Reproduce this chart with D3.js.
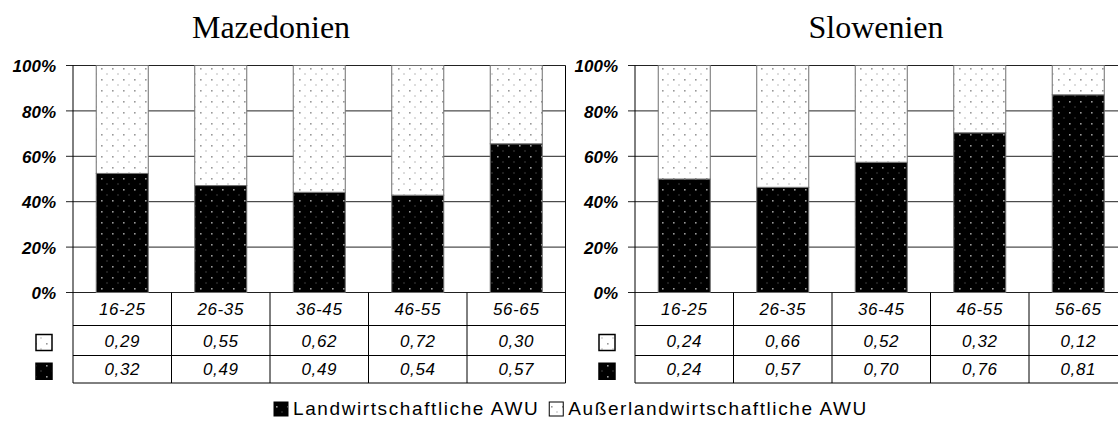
<!DOCTYPE html>
<html>
<head>
<meta charset="utf-8">
<script src="https://cdn.jsdelivr.net/npm/d3@7"></script>
<style>
	body { margin: 0; background: #fff; }
	svg { display: block; }
	.tick-label { font-family: "Liberation Sans", Arial, sans-serif; font-size: 17px; font-weight: bold; font-style: italic; }
	.cell { font-family: "Liberation Sans", Arial, sans-serif; font-size: 17px; font-style: italic; letter-spacing: 0.6px; }
	.title { font-family: "Liberation Serif", "Times New Roman", serif; font-size: 32px; }
	.legend { font-family: "Liberation Sans", Arial, sans-serif; font-size: 19px; letter-spacing: 1.6px; }
</style>
</head>
<body>
<div id="chart"></div>
<script>
// data
const ageGroups = ["16-25", "26-35", "36-45", "46-55", "56-65"];
const mkAgrar = [0.32, 0.49, 0.49, 0.54, 0.57];   // Landwirtschaftliche AWU
const mkAusser = [0.29, 0.55, 0.62, 0.72, 0.30];  // Außerlandwirtschaftliche AWU
const siAgrar = [0.24, 0.57, 0.70, 0.76, 0.81];
const siAusser = [0.24, 0.66, 0.52, 0.32, 0.12];
const yTicks = [0, 0.2, 0.4, 0.6, 0.8, 1];
const seriesNames = ["Landwirtschaftliche AWU", "Außerlandwirtschaftliche AWU"];

const W = 1118, H = 428;
const colW = 98.5;
const plotTop = 65.5, plotBottom = 292.5;
const rows = [292.5, 325.5, 355.5, 383];

const de = d3.formatLocale({ decimal: ",", thousands: ".", grouping: [3], currency: ["", " €"] });
const fmtVal = de.format(".2f");
const fmtPct = d3.format(".0%");

const svg = d3.select("#chart").append("svg")
	.attr("width", W)
	.attr("height", H);

svg.append("rect").attr("width", W).attr("height", H).attr("fill", "#fff");

// dot patterns
const defs = svg.append("defs");
function dotPattern(id, bg) {
	const p = defs.append("pattern")
		.attr("id", id)
		.attr("patternUnits", "userSpaceOnUse")
		.attr("width", 11)
		.attr("height", 11);
	p.append("rect").attr("width", 11).attr("height", 11).attr("fill", bg);
	p.append("rect").attr("x", 2).attr("y", 2).attr("width", 1.6).attr("height", 1.6).attr("fill", "#999");
	p.append("rect").attr("x", 7.5).attr("y", 7.5).attr("width", 1).attr("height", 1).attr("fill", "#777");
}
dotPattern("dotsDark", "#000");
dotPattern("dotsLight", "#fff");
const fills = ["url(#dotsDark)", "url(#dotsLight)"];

function drawPanel({ title, titleX, x0, agrar, ausser, labelX, keyX }) {
	const g = svg.append("g");
	const x1 = x0 + colW * ageGroups.length;

	const x = d3.scaleBand().domain(ageGroups).range([x0, x1])
		.paddingInner(0.472).paddingOuter(0.236);
	const col = d3.scaleBand().domain(ageGroups).range([x0, x1]);
	const y = d3.scaleLinear().domain([0, 1]).range([plotBottom, plotTop]);

	const table = ageGroups.map((a, i) => ({ age: a, agrar: agrar[i], ausser: ausser[i] }));
	const stacked = d3.stack().keys(["agrar", "ausser"]).offset(d3.stackOffsetExpand)(table);

	g.append("text")
		.attr("class", "title")
		.attr("x", titleX)
		.attr("y", 38)
		.attr("text-anchor", "middle")
		.text(title);

	// gridlines with small outside ticks
	g.selectAll(".grid").data(yTicks).enter()
		.append("line")
		.attr("class", "grid")
		.attr("x1", x0 - 7).attr("x2", x1)
		.attr("y1", d => y(d)).attr("y2", d => y(d))
		.attr("stroke", "#222").attr("stroke-width", 1);

	// y labels
	const axis = d3.axisLeft(y).tickValues(yTicks).tickFormat(fmtPct).tickSize(0).tickPadding(x0 - labelX);
	const ax = g.append("g").attr("transform", `translate(${x0},0)`).call(axis);
	ax.select(".domain").remove();
	ax.selectAll(".tick text").attr("class", "tick-label").attr("fill", "#000").attr("dy", "0.36em");

	// bars
	g.selectAll(".layer").data(stacked).enter()
		.append("g")
		.attr("class", "layer")
		.attr("fill", (d, i) => fills[i])
		.selectAll("rect").data(d => d).enter()
		.append("rect")
		.attr("x", d => x(d.data.age))
		.attr("width", x.bandwidth())
		.attr("y", d => y(d[1]))
		.attr("height", d => y(d[0]) - y(d[1]))
		.attr("stroke", "#6e6e6e")
		.attr("stroke-width", 1);

	// frame and table lines
	g.append("line").attr("x1", x0).attr("x2", x0).attr("y1", plotTop).attr("y2", rows[3]).attr("stroke", "#000");
	g.append("line").attr("x1", x1).attr("x2", x1).attr("y1", plotTop).attr("y2", rows[3]).attr("stroke", "#000");
	g.selectAll(".hrow").data(rows.slice(1)).enter()
		.append("line")
		.attr("x1", x0).attr("x2", x1)
		.attr("y1", d => d).attr("y2", d => d)
		.attr("stroke", "#000");
	g.selectAll(".vcol").data(ageGroups.slice(1)).enter()
		.append("line")
		.attr("x1", d => col(d)).attr("x2", d => col(d))
		.attr("y1", rows[0]).attr("y2", rows[3])
		.attr("stroke", "#000");

	// table text
	const rowMid = i => (rows[i] + rows[i + 1]) / 2;
	const cellRows = [
		{ vals: ageGroups, fmt: d => d },
		{ vals: ausser, fmt: fmtVal },
		{ vals: agrar, fmt: fmtVal }
	];
	cellRows.forEach((r, ri) => {
		g.selectAll(".cell-r" + ri).data(r.vals).enter()
			.append("text")
			.attr("class", "cell")
			.attr("x", (d, i) => col(ageGroups[i]) + col.bandwidth() / 2)
			.attr("y", rowMid(ri))
			.attr("dy", "0.36em")
			.attr("text-anchor", "middle")
			.text(r.fmt);
	});

	// key squares in the table
	[fills[1], fills[0]].forEach((f, i) => {
		g.append("rect")
			.attr("x", keyX - 8)
			.attr("y", rowMid(i + 1) - 6)
			.attr("width", 16)
			.attr("height", 16)
			.attr("fill", f)
			.attr("stroke", "#000")
			.attr("stroke-width", 1.5);
	});
}

drawPanel({ title: "Mazedonien", titleX: 271, x0: 73, agrar: mkAgrar, ausser: mkAusser, labelX: 56, keyX: 44 });
drawPanel({ title: "Slowenien", titleX: 876, x0: 635, agrar: siAgrar, ausser: siAusser, labelX: 618, keyX: 607 });

// bottom legend
const legend = svg.append("g").attr("transform", "translate(274,415)");
let lx = 0;
seriesNames.forEach((name, i) => {
	legend.append("rect")
		.attr("x", lx).attr("y", -13)
		.attr("width", 14).attr("height", 14)
		.attr("fill", fills[i])
		.attr("stroke", "#000").attr("stroke-width", 1);
	const t = legend.append("text")
		.attr("class", "legend")
		.attr("x", lx + 19)
		.attr("y", 0)
		.text(name);
	lx += 19 + t.node().getComputedTextLength() + 10;
});
</script>
</body>
</html>
